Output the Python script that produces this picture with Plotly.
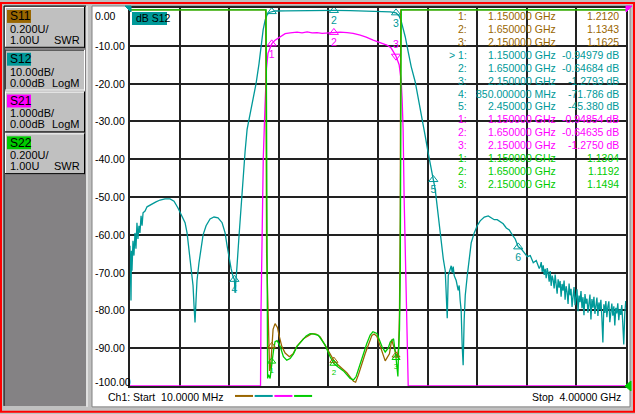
import numpy as np
import plotly.graph_objects as go

# ---- Ch1 sweep and display scales ----
f_start, f_stop = 0.01, 4.0      # GHz
s12_range = [-100.0, 0.0]        # LogM 10 dB/div, ref 0.00 dB
s21_range = [-10.0, 0.0]         # LogM 1 dB/div, ref 0.00 dB
swr_range = [1.0, 3.0]           # SWR 0.2 U/div, ref 1.00 U

y_ticks = [0, -10, -20, -30, -40, -50, -60, -70, -80, -90, -100]
y_tick_text = ['0.00', '-10.00', '-20.00', '-30.00', '-40.00', '-50.00',
               '-60.00', '-70.00', '-80.00', '-90.00', '-100.00']

# ---- traces ----
s12_freq = [0.010, 0.014, 0.018, 0.022, 0.026, 0.034, 0.042, 0.050, 0.058, 0.066,
            0.074, 0.082, 0.090, 0.099, 0.107, 0.115, 0.131, 0.147, 0.171, 0.195,
            0.219, 0.252, 0.292, 0.332, 0.364, 0.396, 0.429, 0.453, 0.469, 0.485,
            0.501, 0.517, 0.525, 0.533, 0.541, 0.549, 0.565, 0.582, 0.598, 0.622,
            0.654, 0.686, 0.718, 0.751, 0.775, 0.791, 0.807, 0.823, 0.839, 0.850,
            0.855, 0.863, 0.871, 0.887, 0.903, 0.920, 0.936, 0.952, 0.976, 1.000,
            1.024, 1.048, 1.064, 1.081, 1.097, 1.113, 1.129, 1.150, 1.177, 1.258,
            1.378, 1.500, 1.650, 1.781, 1.902, 2.022, 2.103, 2.150, 2.175, 2.191,
            2.207, 2.224, 2.248, 2.272, 2.304, 2.328, 2.361, 2.385, 2.409, 2.433,
            2.450, 2.465, 2.481, 2.497, 2.513, 2.530, 2.546, 2.554, 2.562, 2.570,
            2.586, 2.594, 2.602, 2.610, 2.618, 2.634, 2.650, 2.658, 2.666, 2.674,
            2.682, 2.690, 2.698, 2.707, 2.723, 2.739, 2.755, 2.779, 2.803, 2.827,
            2.860, 2.892, 2.916, 2.940, 2.964, 2.988, 3.012, 3.037, 3.061, 3.085,
            3.109, 3.133, 3.157, 3.181, 3.206, 3.230, 3.254, 3.278, 3.302]
s12_db = [-62.9, -67.4, -77.4, -64.2, -69.5, -61.6, -65.5, -59.5, -63.7, -56.8,
          -61.1, -57.6, -59.5, -55.0, -57.6, -54.2, -53.7, -52.6, -52.1, -51.6,
          -51.3, -50.8, -50.5, -50.5, -51.1, -52.9, -55.0, -56.8, -59.5, -63.7,
          -68.2, -73.4, -78.7, -83.2, -77.4, -72.1, -67.4, -62.9, -60.0, -57.6,
          -55.8, -55.3, -55.5, -56.8, -59.5, -62.9, -66.3, -68.9, -71.1, -71.786,
          -75.3, -72.6, -68.2, -60.3, -52.4, -44.5, -37.9, -32.1, -27.9, -24.7,
          -20.0, -14.7, -10.3, -5.8, -3.2, -1.8, -1.18, -0.95, -0.79, -0.74,
          -0.68, -0.66, -0.647, -0.71, -0.79, -0.92, -1.05, -1.279, -2.1, -3.4,
          -5.3, -7.6, -11.6, -15.5, -19.5, -23.7, -28.7, -33.9, -38.4, -43.2,
          -45.38, -47.9, -52.4, -57.6, -61.6, -66.3, -69.5, -77.4, -82.1, -70.8,
          -68.9, -68.2, -70.0, -68.4, -70.8, -72.1, -74.7, -73.4, -77.4, -80.0,
          -89.2, -94.5, -82.6, -76.0, -70.8, -65.5, -62.1, -59.5, -57.6, -56.3,
          -55.3, -55.0, -55.5, -56.0, -56.0, -56.6, -57.1, -58.2, -58.7, -60.0,
          -61.1, -63.2, -63.7, -64.7, -65.8, -65.5, -67.4, -66.8, -68.9]
# noisy tail above 3.31 GHz, one value per sweep step
s12_tail_db = [-68.4, -67.2, -69.8, -68.1, -70.6, -69.0, -71.5, -68.8, -70.2, -72.4,
               -69.6, -73.5, -70.8, -71.9, -74.2, -70.5, -73.1, -75.6, -71.8, -74.0,
               -72.2, -76.4, -73.0, -74.8, -72.1, -77.2, -73.6, -75.1, -78.3, -72.9,
               -76.0, -74.3, -79.1, -75.2, -73.8, -78.6, -75.9, -74.4, -80.2, -76.1,
               -77.8, -74.9, -79.4, -76.5, -81.3, -75.7, -78.2, -76.9, -80.6, -77.3,
               -75.8, -82.4, -77.0, -79.3, -76.4, -80.9, -78.1, -76.6, -81.5, -77.9,
               -79.8, -77.2, -82.0, -88.5, -78.4, -80.7, -77.5, -81.8, -79.0, -77.6,
               -83.1, -79.6, -78.2, -81.4, -78.9, -84.0, -79.3, -80.8, -78.1, -82.6,
               -79.7, -81.2, -78.6, -83.4, -89.0, -81.0, -77.5]
s12_tail_freq = [round(3.310 + 0.008 * i, 3) for i in range(len(s12_tail_db))]

s21_freq = [0.010, 1.060, 1.064, 1.072, 1.082, 1.096, 1.108, 1.120, 1.150, 1.177,
            1.217, 1.258, 1.298, 1.354, 1.394, 1.435, 1.475, 1.515, 1.555, 1.604,
            1.650, 1.700, 1.757, 1.805, 1.862, 1.910, 1.966, 2.022, 2.076, 2.111,
            2.150, 2.175, 2.191, 2.199, 2.207, 2.215, 2.224, 2.232, 2.243, 2.248, 4.0]
s21_db = [-10.0, -10.0, -8.0, -6.0, -4.0, -2.6, -1.6, -1.2, -0.95, -0.85,
          -0.76, -0.68, -0.66, -0.64, -0.66, -0.63, -0.66, -0.65, -0.67, -0.66,
          -0.646, -0.64, -0.65, -0.67, -0.72, -0.77, -0.85, -0.92, -0.98, -1.06,
          -1.275, -1.5, -1.9, -2.4, -3.2, -5.0, -6.5, -7.8, -9.2, -10.0, -10.0]

s11_freq = [0.010, 1.101, 1.109, 1.121, 1.133, 1.141, 1.150, 1.161, 1.177, 1.196,
            1.212, 1.231, 1.258, 1.292, 1.322, 1.352, 1.405, 1.473, 1.507, 1.540,
            1.593, 1.634, 1.650, 1.687, 1.754, 1.808, 1.825, 1.848, 1.902, 1.956,
            1.974, 1.996, 2.031, 2.063, 2.097, 2.115, 2.131, 2.150, 2.159, 2.171,
            2.178, 2.184, 2.188, 4.0]
s11_swr = [3.0, 3.0, 1.7, 1.35, 1.08, 1.10, 1.212, 1.30, 1.33, 1.31,
           1.26, 1.21, 1.174, 1.155, 1.17, 1.21, 1.25, 1.277, 1.275, 1.26,
           1.20, 1.15, 1.1343, 1.11, 1.07, 1.025, 1.02, 1.06, 1.172, 1.268,
           1.275, 1.263, 1.19, 1.133, 1.17, 1.245, 1.21, 1.1625, 1.15, 1.2,
           1.4, 1.9, 3.0, 3.0]

s22_freq = [0.010, 1.105, 1.117, 1.125, 1.137, 1.150, 1.159, 1.165, 1.177, 1.193,
            1.218, 1.244, 1.271, 1.298, 1.325, 1.354, 1.392, 1.427, 1.459, 1.491,
            1.526, 1.556, 1.580, 1.620, 1.650, 1.684, 1.727, 1.781, 1.808, 1.829,
            1.862, 1.915, 1.942, 1.964, 1.996, 2.036, 2.063, 2.087, 2.103, 2.130,
            2.150, 2.159, 2.165, 2.171, 2.178, 2.184, 2.192, 4.0]
s22_swr = [3.0, 3.0, 1.04, 1.06, 1.04, 1.1304, 1.16, 1.19, 1.235, 1.24,
           1.21, 1.155, 1.137, 1.145, 1.17, 1.21, 1.24, 1.265, 1.277, 1.275,
           1.268, 1.24, 1.216, 1.155, 1.1192, 1.10, 1.08, 1.04, 1.032, 1.05,
           1.12, 1.225, 1.27, 1.287, 1.278, 1.21, 1.18, 1.20, 1.232, 1.25,
           1.1494, 1.07, 1.05, 1.2, 1.3, 1.6, 3.0, 3.0]

# ---- markers ----
mk_freq = [1.15, 1.65, 2.15]
s11_mk = [1.2120, 1.1343, 1.1625]
s12_mk_freq = [1.15, 1.65, 2.15, 0.85, 2.45]
s12_mk = [-0.94979, -0.64684, -1.2793, -71.786, -45.380]
s12_mk6 = (3.133, -63.2)
s21_mk = [-0.94854, -0.64635, -1.2750]
s22_mk = [1.1304, 1.1192, 1.1494]

channels = ['S11', 'S12', 'S21', 'S22']
ch_scale = ['0.200U/', '10.00dB/', '1.000dB/', '0.200U/']
ch_ref = ['1.00U', '0.00dB', '0.00dB', '1.00U']
ch_fmt = ['SWR', 'LogM', 'LogM', 'SWR']
ch_color = ['#996600', '#009999', '#ff00ff', '#00cc00']
C11, C12, C21, C22 = ch_color

FONT = 'Liberation Sans'
W, H = 635, 414
ML, MR, MT, MB = 130, 9, 6, 28
PW, PH = W - ML - MR, H - MT - MB


def px(x):
    return (x - ML) / PW


def py(y):
    return (H - MB - y) / PH


shapes = []
notes = []


def rect(x0, y0, x1, y1, fill=None, line=None, lw=1, layer='below'):
    shapes.append(dict(type='rect', xref='paper', yref='paper', layer=layer,
                       x0=px(x0), x1=px(x1), y0=py(y1), y1=py(y0),
                       fillcolor=fill or 'rgba(0,0,0,0)',
                       line=dict(color=line or 'rgba(0,0,0,0)', width=lw if line else 0)))


def seg(x0, y0, x1, y1, color, lw=1, layer='below'):
    shapes.append(dict(type='line', xref='paper', yref='paper', layer=layer,
                       x0=px(x0), x1=px(x1), y0=py(y0), y1=py(y1),
                       line=dict(color=color, width=lw)))


def tri(points, color):
    path = 'M ' + ' L '.join(f'{px(a):.5f},{py(b):.5f}' for a, b in points) + ' Z'
    shapes.append(dict(type='path', xref='paper', yref='paper', layer='above',
                       path=path, fillcolor=color, line=dict(color=color, width=1)))


def text(x, y, s, color='black', size=11, anchor='left'):
    notes.append(dict(xref='paper', yref='paper', x=px(x), y=py(y), text=s,
                      showarrow=False, xanchor=anchor, yanchor='middle',
                      font=dict(family=FONT, size=size, color=color)))


# window frame
rect(1, 1, 634, 412, line='#ff0000', lw=2)
rect(4, 4, 86, 406, fill='#848284')
seg(4, 4, 4, 406, '#000000')
seg(4, 4, 86, 4, '#000000')
seg(87, 4, 87, 407, '#ffffff')
rect(92, 4, 630, 407, fill='#ffffff', line='#808080')

# channel buttons
btn_top = [5, 48, 90, 132]
for i, name in enumerate(channels):
    t, b = btn_top[i], btn_top[i] + 41
    pressed = name == 'S12'
    rect(5, t, 85, b, fill='#c0c0c0')
    hi, lo = ('#404040', '#ffffff') if pressed else ('#ffffff', '#000000')
    seg(5, t + 0.5, 85, t + 0.5, hi)
    seg(5.5, t, 5.5, b, hi)
    seg(5, b - 0.5, 85, b - 0.5, lo)
    seg(84.5, t, 84.5, b, lo)
    rect(7, t + 3, 31, t + 16, fill=ch_color[i])
    text(8, t + 9.5, name, size=12)
    text(8, t + 22, ch_scale[i])
    text(8, t + 33, ch_ref[i])
    text(82, t + 33, ch_fmt[i], anchor='right')

# y labels of the active trace (S12)
for v, s in zip(y_ticks, y_tick_text):
    shift = -8 if v == 0 else (4 if v == -100 else 0)
    notes.append(dict(xref='paper', yref='y', x=px(93), y=v, yshift=shift, text=s,
                      showarrow=False, xanchor='left', yanchor='middle',
                      font=dict(family=FONT, size=10.5, color='black')))

# trace title box
rect(132, 10, 167, 23, fill=C12, layer='above')
text(133.5, 16.5, 'dB S12', size=10.5)

# reference position arrows
tri([(125, 4), (131, 4), (131, 10)], C12)
tri([(626, 4), (632, 4), (626, 10)], C21)
tri([(625, 386), (631, 381), (631, 391)], C22)

# status line
text(106, 397, 'Ch1: Start\u00a0 10.0000 MHz', size=10.5)
text(623, 397.5, 'Stop\u00a0 4.00000 GHz', size=10.5, anchor='right')
for k, c in enumerate(ch_color):
    seg(235 + 19.7 * k, 396, 253 + 19.7 * k, 396, c, lw=2)


# marker readout table
def fmt_f(f):
    return f'{f:.6f} GHz' if f >= 1 else f'{f * 1000:.6f} MHz'


rows = []
for j, (f, v) in enumerate(zip(mk_freq, s11_mk)):
    rows.append((f'{j + 1}:', fmt_f(f), f'{v:#.5g}', C11))
for j, (f, v) in enumerate(zip(s12_mk_freq, s12_mk)):
    rows.append((('> ' if j == 0 else '') + f'{j + 1}:', fmt_f(f), f'{v:#.5g} dB', C12))
for j, (f, v) in enumerate(zip(mk_freq, s21_mk)):
    rows.append((f'{j + 1}:', fmt_f(f), f'{v:#.5g} dB', C21))
for j, (f, v) in enumerate(zip(mk_freq, s22_mk)):
    rows.append((f'{j + 1}:', fmt_f(f), f'{v:#.5g}', C22))
for r, (idx, fs, vs, c) in enumerate(rows):
    yy = 14 + 13 * r
    text(469, yy, idx, c, 10.5, 'right')
    text(558, yy, fs, c, 10.5, 'right')
    text(621, yy, vs, c, 10.5, 'right')

fig = go.Figure()
line_w = 1.3
fig.add_trace(go.Scatter(x=s11_freq, y=np.clip(s11_swr, 1.0, 2.99), yaxis='y3', mode='lines',
                         line=dict(color=C11, width=line_w)))
fig.add_trace(go.Scatter(x=s12_freq + s12_tail_freq, y=s12_db + s12_tail_db, mode='lines',
                         line=dict(color=C12, width=line_w)))
fig.add_trace(go.Scatter(x=s21_freq, y=np.clip(s21_db, -9.995, 0), yaxis='y2', mode='lines',
                         line=dict(color=C21, width=line_w)))
fig.add_trace(go.Scatter(x=s22_freq, y=np.clip(s22_swr, 1.0, 2.99), yaxis='y3', mode='lines',
                         line=dict(color=C22, width=line_w)))

# marker symbols on the traces
mfont = dict(family=FONT, size=10.5)
fig.add_trace(go.Scatter(x=s12_mk_freq + [s12_mk6[0]], y=s12_mk + [s12_mk6[1]], mode='markers+text',
                         marker=dict(symbol='triangle-up-open', size=8, color=C12, line=dict(width=1)),
                         text=['', '2', '3', '4', '5', '6'], textposition='bottom center',
                         textfont=dict(mfont, color=C12), cliponaxis=False))
fig.add_trace(go.Scatter(x=mk_freq, y=s21_mk, yaxis='y2', mode='markers+text',
                         marker=dict(symbol=['triangle-up-open', 'triangle-up-open', 'triangle-down-open'],
                                     size=8, color=C21, line=dict(width=1)),
                         text=['1', '2', '3'],
                         textposition=['bottom center', 'bottom center', 'top center'],
                         textfont=dict(mfont, color=C21), cliponaxis=False))
fig.add_trace(go.Scatter(x=mk_freq, y=s11_mk, yaxis='y3', mode='markers',
                         marker=dict(symbol='triangle-up-open', size=7, color=C11, line=dict(width=1))))
fig.add_trace(go.Scatter(x=mk_freq, y=s22_mk, yaxis='y3', mode='markers+text',
                         marker=dict(symbol='triangle-up-open', size=7, color=C22, line=dict(width=1)),
                         text=['1', '2', '3'], textposition='bottom center',
                         textfont=dict(family=FONT, size=8, color=C22)))

grid = '#222222'
fig.update_layout(
    width=W, height=H,
    margin=dict(l=ML, r=MR, t=MT, b=MB, pad=0),
    paper_bgcolor='#c0c0c0', plot_bgcolor='#ffffff',
    showlegend=False,
    xaxis=dict(range=[f_start, f_stop], tick0=f_start, dtick=(f_stop - f_start) / 10,
               showgrid=True, gridcolor=grid, gridwidth=2, showticklabels=False, ticks='',
               zeroline=False, showline=True, mirror=True, linecolor=grid, linewidth=2),
    yaxis=dict(range=s12_range, tick0=0, dtick=10, showgrid=True, gridcolor=grid, gridwidth=2,
               showticklabels=False, ticks='', zeroline=False, showline=True, mirror=True,
               linecolor=grid, linewidth=2),
    yaxis2=dict(range=s21_range, overlaying='y', visible=False),
    yaxis3=dict(range=swr_range, overlaying='y', visible=False),
    shapes=shapes, annotations=notes,
)

fig.write_html('out.html', config={'displayModeBar': False},
               post_script="document.body.style.margin='0';document.body.style.overflow='hidden';")
